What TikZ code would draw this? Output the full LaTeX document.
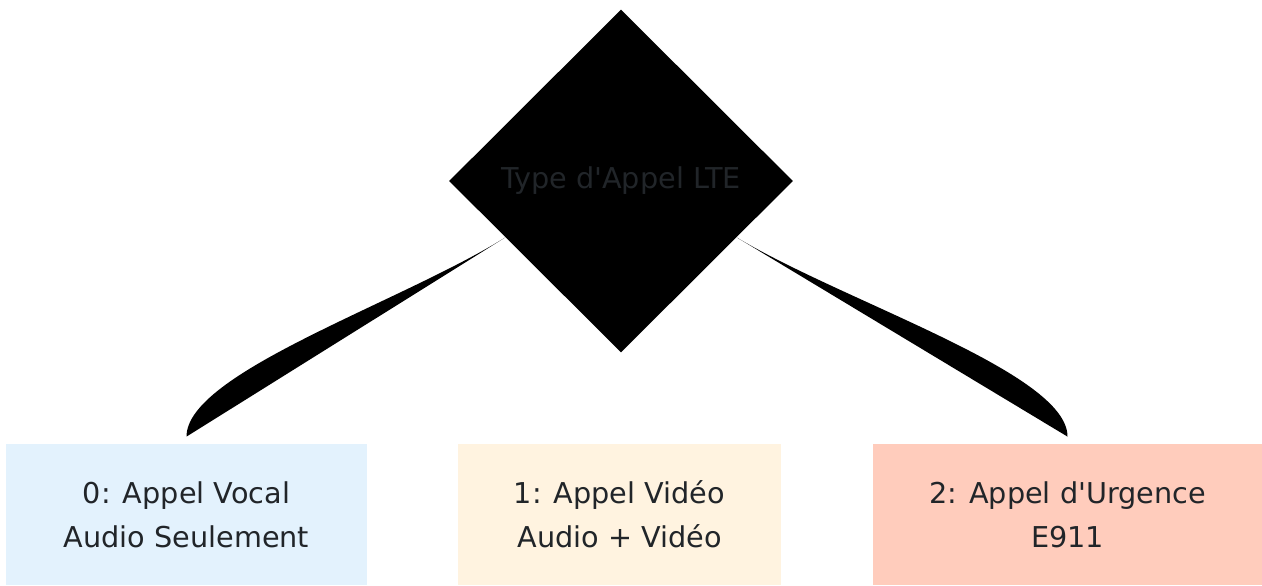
\documentclass[tikz,border=0pt]{standalone}
\usepackage{fontspec}
\setmainfont{DejaVu Sans}
\usepackage{xcolor}
\usepackage{tikz}
\usetikzlibrary{positioning,shapes.geometric}

\definecolor{txtgray}{HTML}{212529}
\definecolor{voicebg}{HTML}{E3F2FD}
\definecolor{videobg}{HTML}{FFF3E0}
\definecolor{urgbg}{HTML}{FFCCBC}

\begin{document}
\begin{tikzpicture}[x=1pt,y=1pt,font=\fontsize{14.35}{22}\selectfont,
      typebox/.style={draw=none,align=center,minimum height=70.5pt,inner sep=0pt,text=txtgray},
      decide/.style={diamond,fill=black,draw=none,minimum width=172pt,minimum height=171.5pt,inner sep=0pt,text=txtgray},
      wedge/.style={fill=black,draw=none}]
    \useasboundingbox (0,0) rectangle (631,-292.5);
    \node[decide] (type) at (310.5,-90.5) {\raisebox{-1pt}{Type d\textquotesingle Appel LTE}};
    \node[typebox,fill=voicebg,minimum width=180.5pt] (voice) at (93.25,-257.25) {0: Appel Vocal\\Audio Seulement};
    \node[typebox,fill=videobg,minimum width=161.5pt] (video) at (309.75,-257.25) {1: Appel Vidéo\\Audio + Vidéo};
    \node[typebox,fill=urgbg,minimum width=194.5pt] (urg) at (533.75,-257.25) {2: Appel d\textquotesingle Urgence\\E911};
    \fill[wedge] (type.206) .. controls +(-52,-32.5) and +(0,32) .. ([yshift=3.5pt]voice.north);
    \fill[wedge] (type.334) .. controls +(54,-32.5) and +(0,32) .. ([yshift=3.5pt]urg.north);
  \end{tikzpicture}
\end{document}
